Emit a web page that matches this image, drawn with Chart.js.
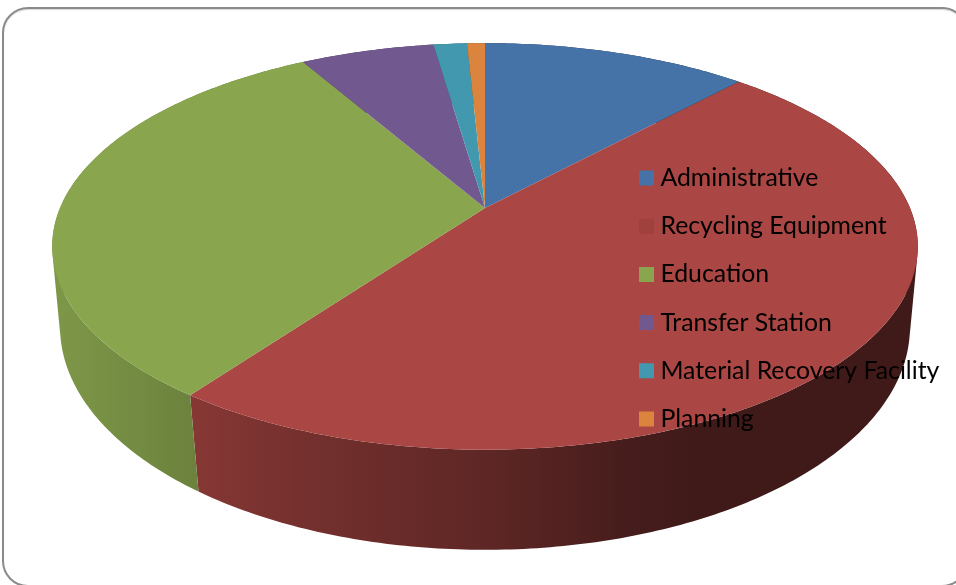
<!DOCTYPE html>
<html lang="en">
<head>
  <meta charset="UTF-8">
  <title>Budget by Category</title>
  <script src="https://cdn.jsdelivr.net/npm/chart.js"></script>
  <style>
    html, body { margin: 0; padding: 0; background: white; overflow: hidden; }
    #wrap { position: relative; width: 956px; height: 585px; overflow: hidden; }
    #frame { position: absolute; left: 2px; top: 7px; width: 966px; height: 580px; box-sizing: border-box;
             border: 2px solid #8a8a8a; border-radius: 26px; box-shadow: inset 0 1px 1px #d8d8d8; }
    canvas { position: absolute; left: 0; top: 0; }
  </style>
</head>
<body>
  <div id="wrap">
    <div id="frame"></div>
    <canvas id="pie" width="956" height="585"></canvas>
  </div>

  <script>
    const categories = ['Administrative', 'Recycling Equipment', 'Education', 'Transfer Station', 'Material Recovery Facility', 'Planning'];
    const shares = [11.9, 48.1, 31.7, 6.0, 1.5, 0.8];
    const colors = ['#4572a7', '#aa4643', '#89a54e', '#71588f', '#4198af', '#db843d'];
    const swatches = ['#4572a7', '#a1413e', '#89a54e', '#71588f', '#4198af', '#db843d'];

    // perspective of the top and bottom discs, measured on the picture
    const topDisc = { cx: 485, y0: 208, a: 425, b: 196, k: 0.189 };
    const bottomDisc = { cx: 485, y0: 288, a: 418.4, b: 216, k: 0.175 };
    // side wall gets darker going right: [x, brightness]
    const sideShade = [[50, 0.92], [200, 0.78], [320, 0.67], [485, 0.55], [640, 0.40], [700, 0.37], [920, 0.37]];

    function project(disc, angle) {
      const u = Math.cos(angle), v = Math.sin(angle);
      const w = 1 - disc.k * v;
      return { x: disc.cx + disc.a * u / w, y: disc.y0 + disc.b * v / w };
    }

    function darken(hex, f) {
      const n = parseInt(hex.slice(1), 16);
      return `rgb(${Math.round((n >> 16) * f)},${Math.round(((n >> 8) & 255) * f)},${Math.round((n & 255) * f)})`;
    }

    function sideGradient(ctx, hex) {
      const x0 = sideShade[0][0], x1 = sideShade[sideShade.length - 1][0];
      const g = ctx.createLinearGradient(x0, 0, x1, 0);
      sideShade.forEach(([x, s]) => g.addColorStop((x - x0) / (x1 - x0), darken(hex, s)));
      return g;
    }

    // always the same winding, so overlapping triangles add up under nonzero fill
    function addTriangle(ctx, a, b, c) {
      const area = (b.x - a.x) * (c.y - a.y) - (b.y - a.y) * (c.x - a.x);
      const [p, q] = area < 0 ? [c, b] : [b, c];
      ctx.moveTo(a.x, a.y);
      ctx.lineTo(p.x, p.y);
      ctx.lineTo(q.x, q.y);
      ctx.closePath();
    }

    // Chart.js works out the slice angles, this only draws them tilted.
    // Runs before the legend so the labels stay on top of the pie.
    const tiltedPie = {
      id: 'tiltedPie',
      beforeDraw(chart) {
        const ctx = chart.ctx;
        const arcs = chart.getDatasetMeta(0).data;
        const step = Math.PI / 240;

        ctx.save();
        arcs.forEach((arc, i) => {
          // side wall as one path of small pieces, so the outline follows both discs
          ctx.fillStyle = sideGradient(ctx, colors[i]);
          ctx.beginPath();
          for (let t = arc.startAngle; t < arc.endAngle; t += step) {
            const t2 = Math.min(t + step, arc.endAngle);
            const a = project(topDisc, t), b = project(topDisc, t2);
            const c = project(bottomDisc, t2), d = project(bottomDisc, t);
            addTriangle(ctx, a, b, c);
            addTriangle(ctx, a, c, d);
          }
          ctx.fill();
        });

        arcs.forEach((arc, i) => {
          ctx.fillStyle = colors[i];
          ctx.beginPath();
          ctx.moveTo(topDisc.cx, topDisc.y0);
          for (let t = arc.startAngle; t < arc.endAngle; t += step) {
            const p = project(topDisc, t);
            ctx.lineTo(p.x, p.y);
          }
          const end = project(topDisc, arc.endAngle);
          ctx.lineTo(end.x, end.y);
          ctx.closePath();
          ctx.fill();
        });
        ctx.restore();
      },
      beforeDatasetsDraw() {
        return false;
      },
      afterLayout(chart) {
        chart.legend.left = 621.6;
      }
    };

    new Chart(document.getElementById('pie').getContext('2d'), {
      type: 'pie',
      data: {
        labels: categories,
        datasets: [{
          data: shares,
          backgroundColor: colors,
          borderColor: swatches,
          borderWidth: 12
        }]
      },
      options: {
        responsive: false,
        animation: false,
        layout: { padding: { top: 12, right: 0, bottom: 0, left: 0 } },
        plugins: {
          tooltip: { enabled: false },
          legend: {
            position: 'right',
            labels: {
              boxWidth: 3,
              boxHeight: 3,
              padding: 23.4,
              color: '#000',
              font: { family: 'Lato', size: 24.8 }
            }
          }
        }
      },
      plugins: [tiltedPie]
    });
  </script>
</body>
</html>
